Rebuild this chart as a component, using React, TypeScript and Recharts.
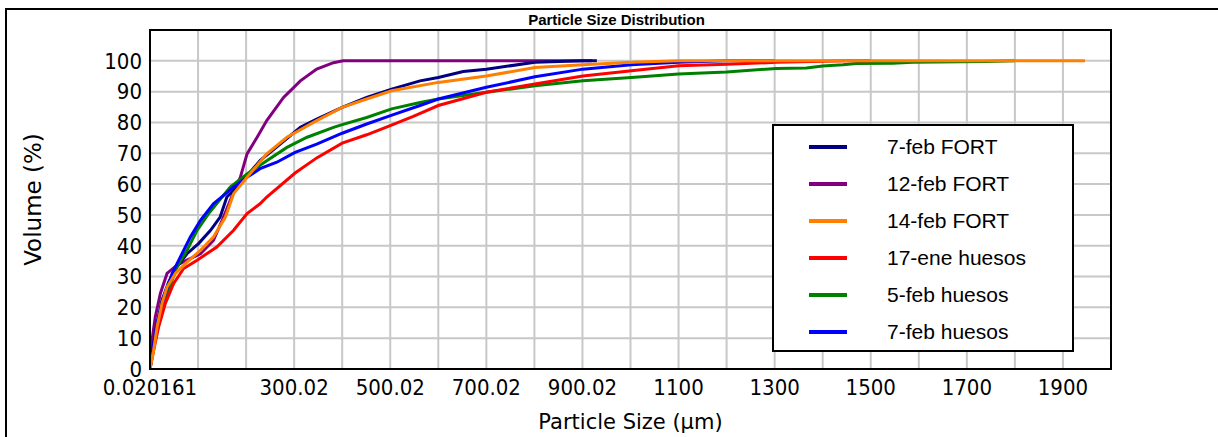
import React from 'react';
import { LineChart, Line, XAxis, YAxis, CartesianGrid, ReferenceArea, Legend } from 'recharts';

// ---- data (particle size in µm, cumulative volume in %) ----
const fort7febX = [0.02, 6.4, 14.8, 25, 39, 56, 77, 101, 126, 146, 160, 188, 229, 271, 313, 347, 400, 451, 503, 562, 600, 652, 700, 801, 901, 930];
const fort7febY = [0, 7.2, 14.8, 22.3, 28.3, 33.1, 37.4, 40.7, 45, 49.3, 55.8, 60.1, 67.6, 73, 78.4, 81.1, 84.9, 88.1, 90.8, 93.5, 94.6, 96.5, 97.3, 99.5, 100, 100];

const fort12febX = [0.02, 4.3, 11, 21.6, 35.5, 56, 77, 105, 132, 153, 173, 188, 202, 223, 243, 278, 313, 347, 382, 402, 920];
const fort12febY = [0, 9.4, 16.9, 24.5, 31, 33.7, 35.3, 37.4, 41.7, 49.3, 57, 62.2, 69.8, 75.2, 80.6, 88.1, 93.5, 97.3, 99.4, 100, 100];

const fort14febX = [0.02, 7.7, 14.8, 25, 35.5, 53, 77, 105, 132, 157, 174, 202, 243, 285, 347, 400, 451, 503, 520, 600, 700, 801, 901, 1002, 1100, 1946];
const fort14febY = [0, 6.1, 13.7, 21.3, 26.6, 31, 34.7, 38.5, 42.8, 49.3, 56.9, 62.2, 69.8, 75.2, 80.6, 84.9, 87.6, 90.3, 90.8, 93, 95.1, 97.8, 98.7, 99.5, 100, 100];

const huesos17eneX = [0.02, 7.7, 18, 32, 49, 70, 98, 139, 174, 202, 229, 243, 302, 347, 400, 451, 500, 548, 600, 700, 801, 901, 1002, 1100, 1200, 1303, 1450, 1500];
const huesos17eneY = [0, 6.1, 13.7, 21.3, 27.7, 32.6, 35.3, 39.6, 45, 50.4, 53.6, 55.8, 63.6, 68.5, 73.3, 76, 79, 82, 85.5, 89.8, 92.5, 95.1, 96.8, 98.4, 98.9, 99.5, 100, 100];

const huesos5febX = [0.02, 7.7, 21.6, 39, 56, 77, 98, 122, 167, 202, 243, 285, 327, 382, 400, 451, 503, 562, 600, 700, 801, 901, 1002, 1100, 1200, 1303, 1366, 1400, 1442, 1470, 1546, 1587, 1740, 1800];
const huesos5febY = [0, 7.2, 16.9, 25.6, 33.1, 38.5, 45, 50.4, 59, 63.3, 67.6, 71.9, 75.2, 78.4, 79.3, 81.6, 84.4, 86.5, 87.6, 89.8, 91.9, 93.5, 94.6, 95.7, 96.4, 97.5, 97.7, 98.3, 98.7, 99.1, 99.2, 99.5, 99.8, 100];

const huesos7febX = [0.02, 7.7, 18, 32, 46, 63, 84, 105, 132, 174, 202, 229, 264, 302, 347, 400, 451, 502, 562, 600, 700, 801, 901, 1002, 1100, 1200, 1300];
const huesos7febY = [0, 8.3, 16.9, 24.5, 31, 36.3, 42.8, 48.2, 53.6, 59, 62.2, 65, 67.1, 70.3, 73, 76.5, 79.5, 82.3, 85.5, 87.6, 91.4, 94.8, 97.3, 98.7, 99.5, 100, 100];

const seriesNames = ['7-feb FORT', '12-feb FORT', '14-feb FORT', '17-ene huesos', '5-feb huesos', '7-feb huesos'];
const seriesColors = ['#000080', '#800080', '#FF8000', '#FF0000', '#008000', '#0000FF'];
const seriesX = [fort7febX, fort12febX, fort14febX, huesos17eneX, huesos5febX, huesos7febX];
const seriesY = [fort7febY, fort12febY, fort14febY, huesos17eneY, huesos5febY, huesos7febY];
const drawOrder = [1, 0, 4, 5, 3, 2];

const xTicks = [0.020161, 100.02, 200.02, 300.02, 400.02, 500.02, 600.02, 700.02, 800.02, 900.02, 1000.02, 1100.02, 1200.02, 1300.02, 1400.02, 1500.02, 1600.02, 1700.02, 1800.02, 1900.02];
const xTickLabels = ['0.020161', '', '', '300.02', '', '500.02', '', '700.02', '', '900.02', '', '1100', '', '1300', '', '1500', '', '1700', '', '1900'];
const yTicks = [0, 10, 20, 30, 40, 50, 60, 70, 80, 90, 100];

const tickFont = { fontFamily: '"DejaVu Sans Condensed", "DejaVu Sans", sans-serif', fontSize: 22, fill: '#000' };
const titleFont = '"DejaVu Sans", sans-serif';

const LegendBox = () => (
  <div
    style={{
      width: 302,
      height: 228,
      boxSizing: 'border-box',
      border: '2px solid #000',
      background: '#fff',
      paddingTop: 2,
      fontFamily: '"Liberation Sans", Arial, sans-serif',
      fontSize: 21,
      color: '#000',
    }}
  >
    {seriesNames.map((n, i) => (
      <div key={n} style={{ height: 37, display: 'flex', alignItems: 'center' }}>
        <div style={{ marginLeft: 35, width: 38, height: 4, background: seriesColors[i] }} />
        <div style={{ marginLeft: 40, whiteSpace: 'nowrap' }}>{n}</div>
      </div>
    ))}
  </div>
);

export default function App() {
  return (
    <div style={{ position: 'absolute', left: 0, top: 0, width: 1218, height: 437, overflow: 'hidden', background: '#fff' }}>
      <div
        style={{
          position: 'absolute',
          left: 5,
          top: 8,
          width: 1300,
          height: 500,
          borderLeft: '2px solid #000',
          borderTop: '2px solid #000',
        }}
      />
      <div
        style={{
          position: 'absolute',
          left: 0,
          width: 1233,
          top: 12,
          textAlign: 'center',
          fontFamily: '"Liberation Sans", Arial, sans-serif',
          fontWeight: 'bold',
          fontSize: 15,
          lineHeight: '16px',
          color: '#000',
        }}
      >
        Particle Size Distribution
      </div>
      <LineChart width={1218} height={437} margin={{ top: 30, right: 107, bottom: 0, left: 0 }} style={{ position: 'absolute', left: 0, top: 0 }}>
        <CartesianGrid stroke="#c8c8c8" strokeWidth={2} />
        <XAxis
          type="number"
          dataKey="x"
          domain={[0.020161, 2000.02]}
          ticks={xTicks}
          interval={0}
          height={68}
          tickLine={false}
          tickSize={6}
          tickMargin={4}
          tick={tickFont}
          tickFormatter={(v: number, i: number) => xTickLabels[i] ?? ''}
          axisLine={{ stroke: '#000', strokeWidth: 2 }}
          allowDataOverflow
          label={{
            value: 'Particle Size (µm)',
            position: 'insideBottom',
            offset: 8,
            style: { fontFamily: titleFont, fontSize: 21, fill: '#000' },
          }}
        />
        <YAxis
          type="number"
          dataKey="y"
          domain={[0, 110]}
          ticks={yTicks}
          interval={0}
          width={150}
          tickLine={false}
          tickSize={6}
          tickMargin={2}
          tick={tickFont}
          axisLine={{ stroke: '#000', strokeWidth: 2 }}
          allowDataOverflow
          label={{
            content: (props: any) => {
              const vb = props.viewBox || { x: 0, y: 30, width: 150, height: 339 };
              const cx = 33;
              const cy = vb.y + vb.height / 2;
              return (
                <text
                  x={cx}
                  y={cy}
                  transform={`rotate(-90, ${cx}, ${cy})`}
                  textAnchor="middle"
                  dominantBaseline="central"
                  style={{ fontFamily: titleFont, fontSize: 23, fill: '#000' }}
                >
                  Volume (%)
                </text>
              );
            },
          }}
        />
        <ReferenceArea x1={0.020161} x2={2000.02} y1={0} y2={110} fill="none" stroke="#000" strokeWidth={2} ifOverflow="visible" />
        {drawOrder.map((i) => (
          <Line
            key={seriesNames[i]}
            data={seriesX[i].map((x, k) => ({ x, y: seriesY[i][k] }))}
            dataKey="y"
            name={seriesNames[i]}
            stroke={seriesColors[i]}
            strokeWidth={3}
            dot={false}
            activeDot={false}
            type="linear"
            isAnimationActive={false}
          />
        ))}
        <Legend
          layout="horizontal"
          verticalAlign="middle"
          align="center"
          content={() => <LegendBox />}
          wrapperStyle={{ position: 'absolute', left: 772, top: 124, width: 302, height: 228 }}
        />
      </LineChart>
    </div>
  );
}
